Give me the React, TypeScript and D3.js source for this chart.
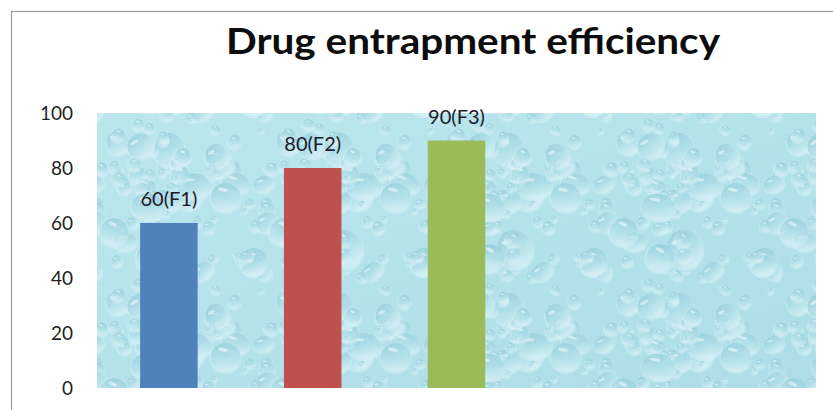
import React, { useMemo } from "react";
import * as d3 from "d3";

// Chart content
const TITLE = "Drug entrapment efficiency";
const slots = ["F1", "F2", "F3", "F4", "F5"];
const formulations = ["F1", "F2", "F3"];
const efficiency = [60, 80, 90];
const barColors = ["#4f81bd", "#c0504d", "#9bbb59"];
const yTicks = [0, 20, 40, 60, 80, 100];

const W = 833;
const H = 410;
const plot = { left: 97, right: 816, top: 113, bottom: 388 };

// Small deterministic generator for the water-drop texture tile
function lcg(seed: number) {
  let s = seed >>> 0;
  return () => {
    s = (s * 1664525 + 1013904223) >>> 0;
    return s / 4294967296;
  };
}

const TILE_W = 170;
const TILE_H = 160;

function useDrops() {
  return useMemo(() => {
    const rnd = lcg(11);
    const drops: { cx: number; cy: number; rx: number; ry: number; rot: number }[] = [];
    for (let i = 0; i < 90; i++) {
      const big = rnd() < 0.28;
      const rx = big ? 9 + rnd() * 9 : 3 + rnd() * 5;
      drops.push({
        cx: rnd() * TILE_W,
        cy: rnd() * TILE_H,
        rx,
        ry: rx * (0.7 + rnd() * 0.5),
        rot: -35 + rnd() * 70,
      });
    }
    return drops;
  }, []);
}

export default function App() {
  const x = d3
    .scaleBand<string>()
    .domain(slots)
    .range([plot.left, plot.right])
    .paddingInner(0.6)
    .paddingOuter(0.3);
  const y = d3.scaleLinear().domain([0, 100]).range([plot.bottom, plot.top]);
  const drops = useDrops();

  // each drop is drawn with its wrapped copies so the tile repeats without seams
  const offsets = [-1, 0, 1];

  return (
    <svg
      width={W}
      height={H}
      style={{ position: "absolute", left: 0, top: 0, background: "#ffffff" }}
      fontFamily="Lato, 'Open Sans', sans-serif"
    >
      <defs>
        <linearGradient id="drop" x1="0" y1="0" x2="0.3" y2="1">
          <stop offset="0" stopColor="#7cc1d2" />
          <stop offset="0.55" stopColor="#a3d8e4" />
          <stop offset="1" stopColor="#d6f1f5" />
        </linearGradient>
        <linearGradient id="sheen" x1="0" y1="0" x2="1" y2="1">
          <stop offset="0" stopColor="#bce6ee" />
          <stop offset="0.5" stopColor="#b4e2eb" />
          <stop offset="1" stopColor="#addde8" />
        </linearGradient>
        <filter id="soft" x="0" y="0" width="1" height="1">
          <feGaussianBlur stdDeviation="0.7" />
        </filter>
        <pattern id="water" patternUnits="userSpaceOnUse" width={TILE_W} height={TILE_H}>
          {drops.map((d, i) =>
            offsets.flatMap((ox) =>
              offsets.map((oy) => {
                const cx = d.cx + ox * TILE_W;
                const cy = d.cy + oy * TILE_H;
                return (
                  <g key={`${i}-${ox}-${oy}`} transform={`translate(${cx},${cy}) rotate(${d.rot})`}>
                    <ellipse cy={1} rx={d.rx + 1} ry={d.ry + 1} fill="#dcf4f8" opacity={0.35} />
                    <ellipse rx={d.rx} ry={d.ry} fill="url(#drop)" opacity={0.6} />
                    <ellipse
                      cx={-d.rx * 0.3}
                      cy={-d.ry * 0.5}
                      rx={d.rx * 0.32}
                      ry={Math.max(0.7, d.ry * 0.12)}
                      fill="#eefafc"
                      opacity={0.6}
                    />
                  </g>
                );
              })
            )
          )}
        </pattern>
      </defs>

      {/* chart frame */}
      <rect x={11.5} y={11.5} width={W + 20} height={H + 20} fill="#ffffff" stroke="#9a9a9a" strokeWidth={1.2} />

      {/* title */}
      <text
        x={226}
        y={54}
        fontSize={36}
        fontWeight={700}
        fill="#0d0d0d"
        textLength={494}
        lengthAdjust="spacingAndGlyphs"
      >
        {TITLE}
      </text>

      {/* plot area background */}
      <rect
        x={plot.left}
        y={plot.top}
        width={plot.right - plot.left}
        height={plot.bottom - plot.top}
        fill="url(#sheen)"
      />
      <rect
        x={plot.left}
        y={plot.top}
        width={plot.right - plot.left}
        height={plot.bottom - plot.top}
        fill="url(#water)"
        filter="url(#soft)"
      />

      {/* y axis labels */}
      {yTicks.map((t) => (
        <text key={t} x={73} y={y(t)} dy="0.36em" textAnchor="end" fontSize={19} fill="#1f1f1f">
          {t}
        </text>
      ))}

      {/* bars */}
      {formulations.map((f, i) => (
        <rect
          key={f}
          x={x(f)}
          y={y(efficiency[i])}
          width={x.bandwidth()}
          height={y(0) - y(efficiency[i])}
          fill={barColors[i]}
        />
      ))}

      {/* value labels */}
      {formulations.map((f, i) => (
        <text
          key={`lbl-${f}`}
          x={(x(f) ?? 0) + x.bandwidth() / 2}
          y={y(efficiency[i]) - 17}
          textAnchor="middle"
          fontSize={20}
          fill="#1a1a2a"
        >
          {`${efficiency[i]}(${f})`}
        </text>
      ))}
    </svg>
  );
}
